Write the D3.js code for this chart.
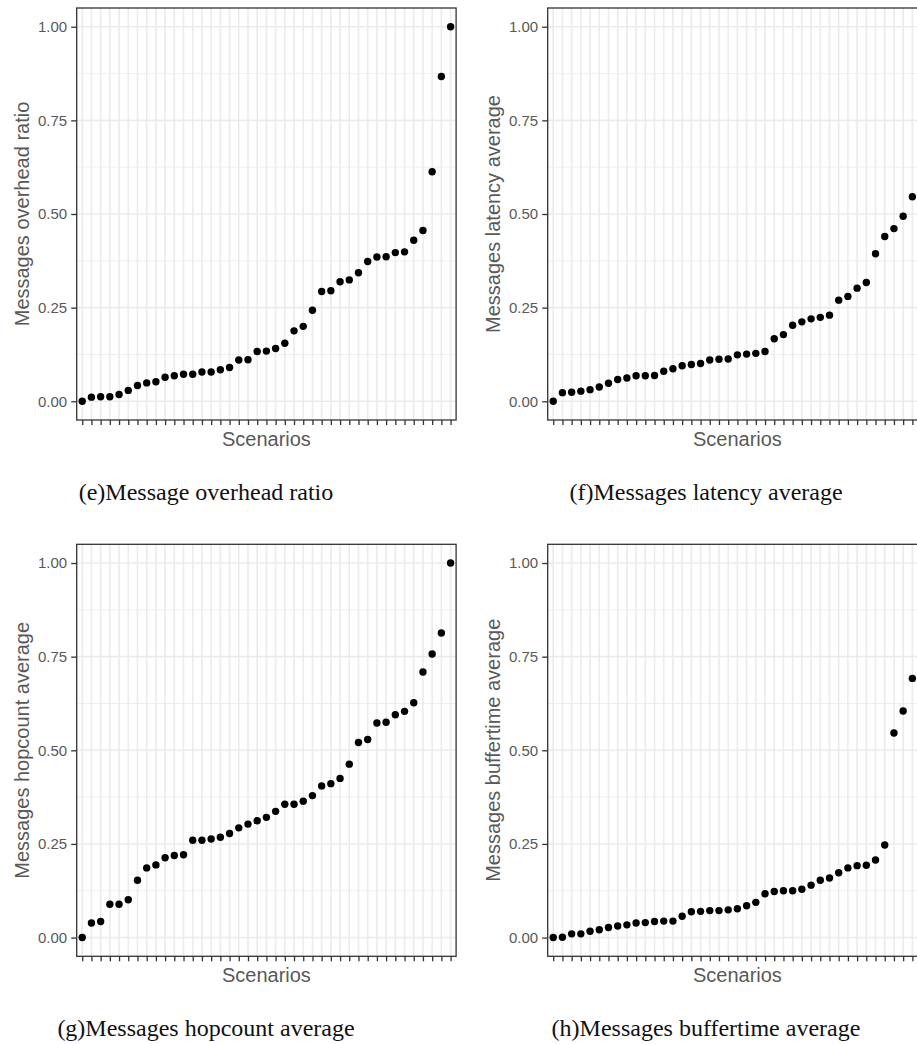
<!DOCTYPE html>
<html>
<head>
<meta charset="utf-8">
<script src="https://cdn.jsdelivr.net/npm/d3@7"></script>
<style>
  html, body { margin: 0; padding: 0; background: #fff; }
  svg { display: block; }
</style>
</head>
<body>
<svg id="fig" width="917" height="1044"></svg>
<script>
// Normalised scenario metrics, each sorted ascending (rank on the x axis).
const overheadRatio = [0.000, 0.011, 0.012, 0.012, 0.018, 0.029, 0.042, 0.049, 0.052, 0.064,
  0.068, 0.072, 0.072, 0.078, 0.078, 0.084, 0.090, 0.110, 0.111, 0.133,
  0.134, 0.141, 0.155, 0.188, 0.200, 0.243, 0.293, 0.295, 0.319, 0.324,
  0.343, 0.373, 0.385, 0.386, 0.397, 0.399, 0.430, 0.456, 0.613, 0.867, 1.000];

const latencyAverage = [0.000, 0.023, 0.024, 0.027, 0.031, 0.038, 0.048, 0.058, 0.062, 0.068,
  0.068, 0.069, 0.080, 0.087, 0.095, 0.098, 0.101, 0.110, 0.112, 0.113,
  0.124, 0.126, 0.128, 0.133, 0.167, 0.178, 0.203, 0.212, 0.220, 0.224,
  0.230, 0.270, 0.280, 0.302, 0.317, 0.394, 0.440, 0.461, 0.494, 0.546, 1.000];

const hopcountAverage = [0.000, 0.039, 0.043, 0.089, 0.089, 0.101, 0.153, 0.186, 0.194, 0.213,
  0.219, 0.221, 0.260, 0.260, 0.263, 0.268, 0.278, 0.293, 0.303, 0.312,
  0.321, 0.337, 0.356, 0.356, 0.364, 0.379, 0.405, 0.411, 0.425, 0.463,
  0.521, 0.529, 0.573, 0.575, 0.595, 0.604, 0.627, 0.709, 0.757, 0.813, 1.000];

const buffertimeAverage = [0.000, 0.001, 0.010, 0.010, 0.017, 0.021, 0.027, 0.031, 0.034, 0.039,
  0.040, 0.043, 0.044, 0.044, 0.057, 0.069, 0.070, 0.072, 0.072, 0.074,
  0.077, 0.085, 0.094, 0.117, 0.123, 0.125, 0.125, 0.129, 0.140, 0.153,
  0.159, 0.173, 0.186, 0.192, 0.193, 0.207, 0.247, 0.546, 0.605, 0.692, 1.000];

// Scenario ranks (x categories, drawn without labels)
const scenarios = d3.range(1, 42).map(String);

const yTicks = [0, 0.25, 0.5, 0.75, 1];
const yMinorTicks = [0.125, 0.375, 0.625, 0.875];

const panels = [
  { values: overheadRatio,     yTitle: "Messages overhead ratio",    caption: "(e)Message overhead ratio",       col: 0, row: 0 },
  { values: latencyAverage,    yTitle: "Messages latency average",   caption: "(f)Messages latency average",     col: 1, row: 0 },
  { values: hopcountAverage,   yTitle: "Messages hopcount average",  caption: "(g)Messages hopcount average",    col: 0, row: 1 },
  { values: buffertimeAverage, yTitle: "Messages buffertime average", caption: "(h)Messages buffertime average", col: 1, row: 1 }
];

const panelLeft = [76.7, 547.7];
const panelTop = [8, 544.3];
const panelW = 379.4;
const panelH = 412;
const captionX = [206, 706];

const svg = d3.select("#fig");

panels.forEach(p => {
  const x0 = panelLeft[p.col];
  const y0 = panelTop[p.row];
  const g = svg.append("g").attr("transform", `translate(${x0},${y0})`);

  const x = d3.scalePoint().domain(scenarios).range([0, panelW]).padding(0.6);
  const y = d3.scaleLinear().domain([-0.05, 1.05]).range([panelH, 0]);

  // panel background grid
  const grid = g.append("g");
  grid.selectAll("line.minor").data(yMinorTicks).join("line")
    .attr("x1", 0).attr("x2", panelW)
    .attr("y1", d => y(d)).attr("y2", d => y(d))
    .attr("stroke", "#ebebeb").attr("stroke-width", 0.8);
  grid.selectAll("line.vmajor").data(scenarios).join("line")
    .attr("x1", d => x(d)).attr("x2", d => x(d))
    .attr("y1", 0).attr("y2", panelH)
    .attr("stroke", "#ebebeb").attr("stroke-width", 1.6);
  grid.selectAll("line.hmajor").data(yTicks).join("line")
    .attr("x1", 0).attr("x2", panelW)
    .attr("y1", d => y(d)).attr("y2", d => y(d))
    .attr("stroke", "#ebebeb").attr("stroke-width", 1.6);

  // points
  g.append("g").selectAll("circle")
    .data(p.values.map((v, i) => ({ s: scenarios[i], v })))
    .join("circle")
    .attr("cx", d => x(d.s))
    .attr("cy", d => y(d.v))
    .attr("r", 3.7)
    .attr("fill", "#000");

  // panel border
  g.append("rect")
    .attr("x", 0).attr("y", 0).attr("width", panelW).attr("height", panelH)
    .attr("fill", "none").attr("stroke", "#333333").attr("stroke-width", 1.3);

  // y axis
  const yAxis = g.append("g")
    .call(d3.axisLeft(y).tickValues(yTicks).tickFormat(d3.format(".2f")).tickSize(5.5).tickPadding(4));
  yAxis.select(".domain").remove();
  yAxis.selectAll(".tick line").attr("stroke", "#333333").attr("stroke-width", 1.3);
  yAxis.selectAll(".tick text")
    .attr("fill", "#595959")
    .style("font-family", "'Liberation Sans', Arial, sans-serif")
    .style("font-size", "15px");

  // x axis (unlabelled scenario ticks)
  const xAxis = g.append("g").attr("transform", `translate(0,${panelH})`)
    .call(d3.axisBottom(x).tickFormat("").tickSize(5));
  xAxis.select(".domain").remove();
  xAxis.selectAll(".tick line").attr("stroke", "#333333").attr("stroke-width", 1.3);

  // axis titles
  g.append("text")
    .attr("x", panelW / 2).attr("y", panelH + 26)
    .attr("text-anchor", "middle")
    .attr("fill", "#595959")
    .style("font-family", "'Liberation Sans', Arial, sans-serif")
    .style("font-size", "20px")
    .text("Scenarios");

  g.append("text")
    .attr("transform", `translate(${22 - 76.7},${panelH / 2}) rotate(-90)`)
    .attr("text-anchor", "middle")
    .attr("dy", "0.35em")
    .attr("fill", "#595959")
    .style("font-family", "'Liberation Sans', Arial, sans-serif")
    .style("font-size", "20px")
    .text(p.yTitle);

  // subfigure caption
  svg.append("text")
    .attr("x", captionX[p.col]).attr("y", y0 + panelH + 80)
    .attr("text-anchor", "middle")
    .attr("fill", "#111")
    .style("font-family", "'Liberation Serif', 'Times New Roman', serif")
    .style("font-size", "24px")
    .text(p.caption);
});
</script>
</body>
</html>
